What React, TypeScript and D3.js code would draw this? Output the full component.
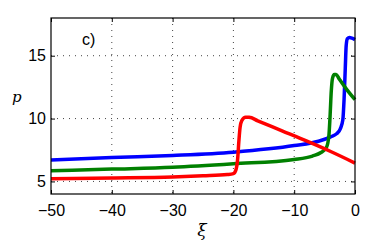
import React, { useEffect, useRef } from "react";
import { select, scaleLinear, line, curveMonotoneX, axisBottom, axisLeft, axisTop, axisRight } from "d3";

// curves: [xi, p]
const blue: [number, number][] = [
  [-50, 6.7], [-40, 6.9], [-30, 7.07], [-20, 7.33], [-10, 7.85], [-6, 8.2], [-4, 8.55],
  [-3, 8.8], [-2.4, 9.2], [-2.0, 9.9], [-1.8, 11.5], [-1.6, 14], [-1.45, 15.8],
  [-1.25, 16.35], [-0.9, 16.45], [-0.5, 16.4], [0, 16.28],
];
const green: [number, number][] = [
  [-50, 5.85], [-40, 5.98], [-30, 6.12], [-20, 6.4], [-10, 6.75], [-7, 7.02], [-5.6, 7.3],
  [-4.7, 7.7], [-4.3, 8.6], [-4.1, 10.2], [-3.9, 12.2], [-3.7, 13.2], [-3.4, 13.5],
  [-3.1, 13.5], [-2.6, 13.15], [-1.5, 12.4], [0, 11.5],
];
const red: [number, number][] = [
  [-50, 5.22], [-40, 5.28], [-30, 5.36], [-25, 5.45], [-21, 5.55], [-20, 5.62],
  [-19.6, 5.9], [-19.3, 6.8], [-19.1, 8.2], [-18.9, 9.3], [-18.6, 9.85], [-18, 10.1],
  [-17.4, 10.1], [-16, 9.82], [-12, 9.02], [-8, 8.22], [-4, 7.38], [0, 6.46],
];
const series = [
  { name: "blue", color: "#0000ff", values: blue },
  { name: "green", color: "#008000", values: green },
  { name: "red", color: "#ff0000", values: red },
];
const xTicks = [-50, -40, -30, -20, -10, 0];
const yTicks = [5, 10, 15];

const W = 392, H = 242;
const m = { left: 51, right: 37, top: 18, bottom: 48 };

export default function App() {
  const svgRef = useRef<SVGSVGElement>(null);

  useEffect(() => {
    const svg = select(svgRef.current);
    svg.selectAll("*").remove();
    const iw = W - m.left - m.right;
    const ih = H - m.top - m.bottom;

    const x = scaleLinear().domain([-50, 0]).range([0, iw]);
    const y = scaleLinear().domain([4, 18]).range([ih, 0]);

    const g = svg.append("g").attr("transform", `translate(${m.left},${m.top})`);

    // dotted grid
    g.selectAll(".vg").data(xTicks.slice(1, -1)).join("line")
      .attr("x1", d => x(d)).attr("x2", d => x(d)).attr("y1", 0).attr("y2", ih)
      .attr("stroke", "#444").attr("stroke-width", 1).attr("stroke-dasharray", "1,5");
    g.selectAll(".hg").data(yTicks).join("line")
      .attr("x1", 0).attr("x2", iw).attr("y1", d => y(d)).attr("y2", d => y(d))
      .attr("stroke", "#444").attr("stroke-width", 1).attr("stroke-dasharray", "1,5");

    const lineGen = line<[number, number]>()
      .x(d => x(d[0])).y(d => y(d[1])).curve(curveMonotoneX);

    g.selectAll(".curve").data(series).join("path")
      .attr("fill", "none").attr("stroke", d => d.color).attr("stroke-width", 3.5)
      .attr("stroke-linejoin", "round")
      .attr("d", d => lineGen(d.values));

    const font = "'Liberation Sans', Arial, sans-serif";
    const styleAxis = (sel: any, labels: boolean) => {
      sel.select(".domain").remove();
      sel.selectAll("line").attr("stroke", "#000");
      sel.selectAll("text").attr("font-family", font).attr("font-size", 16).attr("fill", "#000");
      if (!labels) sel.selectAll("text").remove();
    };

    g.append("g").attr("transform", `translate(0,${ih})`)
      .call(axisBottom(x).tickValues(xTicks).tickSize(-4).tickPadding(11)
        .tickFormat(d => (+d < 0 ? "\u2212" + Math.abs(+d) : String(d))))
      .call(s => styleAxis(s, true));
    g.append("g")
      .call(axisTop(x).tickValues(xTicks).tickSize(-4))
      .call(s => styleAxis(s, false));
    g.append("g")
      .call(axisLeft(y).tickValues(yTicks).tickSize(-4).tickPadding(5))
      .call(s => styleAxis(s, true));
    g.append("g").attr("transform", `translate(${iw},0)`)
      .call(axisRight(y).tickValues(yTicks).tickSize(-4))
      .call(s => styleAxis(s, false));

    g.append("rect").attr("width", iw).attr("height", ih)
      .attr("fill", "none").attr("stroke", "#000").attr("stroke-width", 1.2);

    g.append("text").attr("x", 31).attr("y", 27)
      .attr("font-family", font).attr("font-size", 16).text("c)");

    svg.append("text").attr("x", 12).attr("y", 102)
      .attr("font-family", "'DejaVu Serif', 'Liberation Serif', serif").attr("font-style", "italic")
      .attr("font-size", 15).text("p");
    svg.append("text").attr("x", 202).attr("y", 236).attr("text-anchor", "middle")
      .attr("font-family", "'DejaVu Serif', 'Liberation Serif', serif").attr("font-style", "italic")
      .attr("font-size", 17).text("ξ");
  }, []);

  return (
    <svg ref={svgRef} width={W} height={H}
      style={{ position: "absolute", left: 0, top: 0, background: "#fff" }} />
  );
}
